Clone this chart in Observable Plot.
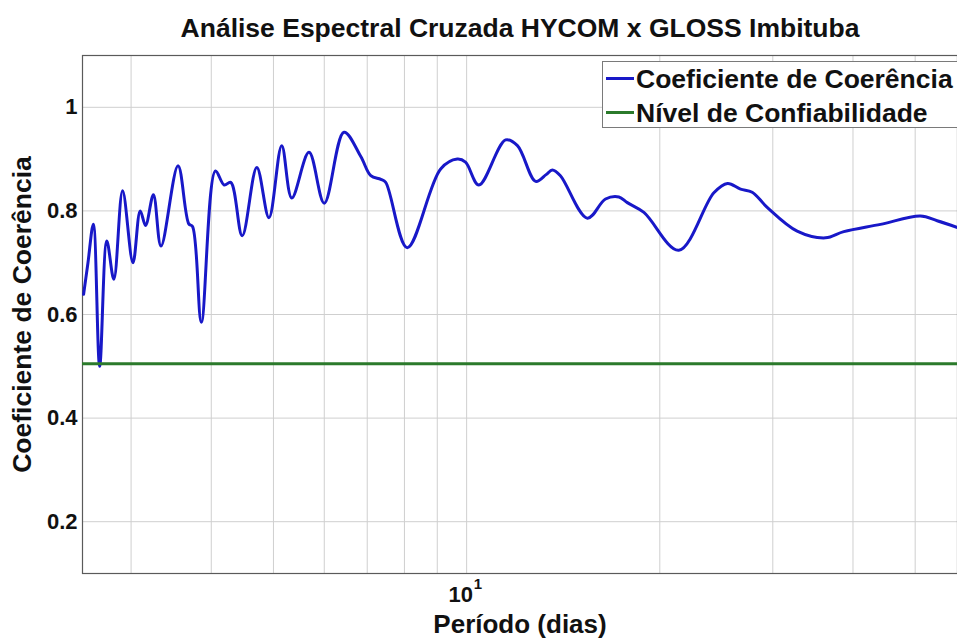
<!DOCTYPE html>
<html>
<head>
<meta charset="utf-8">
<script src="https://cdn.jsdelivr.net/npm/d3@7"></script>
<script src="https://cdn.jsdelivr.net/npm/@observablehq/plot@0.6"></script>
<style>
  body { margin: 0; background: #fff; }
  #wrap { position: relative; width: 957px; height: 639px; overflow: hidden; background: #fff; }
  #legend { position: absolute; left: 602px; top: 61px; width: 380px; height: 67px;
    border: 1px solid #7a7a7a; background: #fff; box-sizing: border-box;
    font-family: "Liberation Sans", Arial, sans-serif; font-weight: bold; font-size: 26.5px; color: #111; }
  .lg-row { position: absolute; left: 0; height: 30px; }
  .lg-line { position: absolute; left: 3px; width: 28px; height: 3px; }
  .lg-text { position: absolute; left: 33px; white-space: nowrap; line-height: 30px; top: 0; }
</style>
</head>
<body>
<div id="wrap">
  <div id="chart"></div>
  <div id="legend"></div>
</div>
<script>
// ---- data ----
const periodDays = [2.53, 2.57, 2.62, 2.68, 2.75, 2.82, 2.91, 3.02, 3.10, 3.16, 3.25, 3.34, 3.55, 3.69, 3.74, 3.86,
  4.06, 4.19, 4.29, 4.47, 4.71, 4.92, 5.15, 5.34, 5.68, 6.00, 6.44, 6.84, 7.09, 7.35, 7.48, 8.08,
  9.11, 9.67, 9.96, 10.45, 11.50, 12.00, 12.81, 13.30, 13.60, 14.00, 15.42, 16.46, 17.27, 17.80, 18.89,
  21.41, 24.28, 25.50, 26.72, 27.86, 29.40, 32.74, 36.25, 38.70, 44.15, 50.95, 54.10, 58.19];
const coherence = [0.639, 0.700, 0.774, 0.500, 0.742, 0.668, 0.839, 0.700, 0.800, 0.772, 0.831, 0.732, 0.887, 0.775, 0.770, 0.585,
  0.877, 0.850, 0.855, 0.752, 0.884, 0.787, 0.926, 0.825, 0.913, 0.815, 0.952, 0.905, 0.868, 0.861, 0.855, 0.729,
  0.881, 0.900, 0.894, 0.850, 0.937, 0.926, 0.857, 0.870, 0.879, 0.868, 0.786, 0.823, 0.827, 0.816, 0.797,
  0.724, 0.835, 0.853, 0.842, 0.836, 0.807, 0.761, 0.748, 0.760, 0.774, 0.790, 0.781, 0.768];
const confidenceLevel = [0.505];

const seriesNames = ["Coeficiente de Coerência", "Nível de Confiabilidade"];
const seriesColors = ["#1818c8", "#2b7a2b"];

const titleText = ["Análise Espectral Cruzada HYCOM x GLOSS Imbituba"];
const xLabelText = ["Período (dias)"];
const yLabelText = ["Coeficiente de Coerência"];

const xDomain = [2.52, 58.2];
const yDomain = [0.1, 1.1];
const xGridValues = [3, 4, 5, 6, 7, 8, 9, 10, 20, 30, 40, 50];
const xTickValues = [10];
const xTickBase = ["10"];
const xTickExponent = ["1"];
const yTickValues = [0.2, 0.4, 0.6, 0.8, 1];
const yTickLabels = ["0.2", "0.4", "0.6", "0.8", "1"];

const data = periodDays.map((p, i) => ({period: p, coh: coherence[i]}));

const gridStyle = {stroke: "#cfcfcf", strokeOpacity: 1, strokeWidth: 1};
const font = "'Liberation Sans', Arial, sans-serif";

const chart = Plot.plot({
  width: 957,
  height: 639,
  marginTop: 55,
  marginBottom: 66,
  marginLeft: 82,
  marginRight: 0,
  style: {fontFamily: font, fontWeight: "bold", background: "#fff", color: "#111", overflow: "visible"},
  x: {type: "log", domain: xDomain},
  y: {domain: yDomain},
  marks: [
    Plot.gridX(xGridValues, gridStyle),
    Plot.gridY(yTickValues, gridStyle),
    Plot.frame({stroke: "#5a5a5a", strokeWidth: 1.2}),
    Plot.axisY(yTickValues, {tickSize: 0, tickPadding: 5, fontSize: 22, label: null,
      tickFormat: d => yTickLabels[yTickValues.indexOf(d)]}),
    Plot.axisX(xTickValues, {tickSize: 0, tickPadding: 13, fontSize: 22, label: null, dx: -6,
      tickFormat: d => xTickBase[xTickValues.indexOf(d)]}),
    Plot.text(xTickValues, {x: d => d, text: (d, i) => xTickExponent[i], frameAnchor: "bottom", dy: 5, dx: 7,
      textAnchor: "start", lineAnchor: "top", fontSize: 15, fontWeight: "bold", fill: "#111"}),
    Plot.line(data, {x: "period", y: "coh", stroke: seriesColors[0], strokeWidth: 3, curve: "catmull-rom"}),
    Plot.ruleY(confidenceLevel, {stroke: seriesColors[1], strokeWidth: 3}),
    Plot.text(titleText, {text: d => d, frameAnchor: "top", dy: -19, lineAnchor: "bottom", fontSize: 26.5, fontWeight: "bold", fill: "#111"}),
    Plot.text(xLabelText, {text: d => d, frameAnchor: "bottom", dy: 41, lineAnchor: "top", fontSize: 26, fontWeight: "bold", fill: "#111"}),
    Plot.text(yLabelText, {text: d => d, frameAnchor: "left", dx: -60, rotate: -90, textAnchor: "middle", lineAnchor: "middle", fontSize: 26.5, fontWeight: "bold", fill: "#111"})
  ]
});
document.getElementById("chart").appendChild(chart);

// legend
const legend = document.getElementById("legend");
seriesNames.forEach((name, i) => {
  const row = document.createElement("div");
  row.className = "lg-row";
  row.style.top = (2 + i * 34) + "px";
  const ln = document.createElement("div");
  ln.className = "lg-line";
  ln.style.background = seriesColors[i];
  ln.style.top = "13px";
  const tx = document.createElement("div");
  tx.className = "lg-text";
  tx.textContent = name;
  row.appendChild(ln);
  row.appendChild(tx);
  legend.appendChild(row);
});
</script>
</body>
</html>
